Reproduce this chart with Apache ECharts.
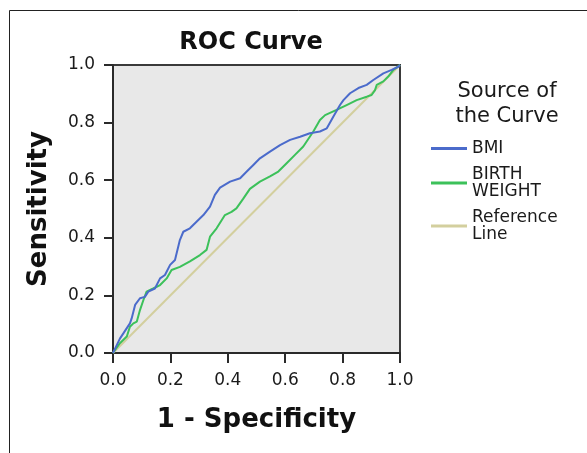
<!DOCTYPE html>
<html>
<head>
<meta charset="utf-8">
<script src="https://cdn.jsdelivr.net/npm/echarts@6/dist/echarts.min.js"></script>
<style>
  html, body { margin: 0; padding: 0; background: #fff; }
  #chart { width: 587px; height: 453px; }
</style>
</head>
<body>
<div id="chart"></div>
<script>
// BMI curve (1 - specificity, sensitivity)
const bmiX = [0, 0.024, 0.059, 0.065, 0.077, 0.094, 0.111, 0.123, 0.146, 0.164, 0.181, 0.199, 0.216, 0.233, 0.245, 0.268, 0.291, 0.315, 0.338, 0.355, 0.373, 0.408, 0.443, 0.466, 0.489, 0.512, 0.547, 0.582, 0.617, 0.652, 0.686, 0.721, 0.745, 0.768, 0.791, 0.803, 0.826, 0.855, 0.884, 0.907, 0.942, 0.971, 0.994, 1]
const bmiY = [0, 0.05, 0.103, 0.12, 0.167, 0.19, 0.195, 0.213, 0.224, 0.259, 0.271, 0.306, 0.323, 0.392, 0.421, 0.433, 0.456, 0.479, 0.508, 0.549, 0.574, 0.595, 0.607, 0.63, 0.653, 0.676, 0.699, 0.722, 0.74, 0.751, 0.763, 0.769, 0.78, 0.821, 0.861, 0.878, 0.902, 0.92, 0.931, 0.948, 0.971, 0.983, 0.994, 1]

// BIRTH WEIGHT curve
const bwX = [0, 0.024, 0.048, 0.059, 0.071, 0.083, 0.094, 0.106, 0.117, 0.14, 0.164, 0.187, 0.204, 0.233, 0.268, 0.303, 0.326, 0.338, 0.361, 0.39, 0.413, 0.43, 0.454, 0.477, 0.512, 0.547, 0.576, 0.605, 0.634, 0.663, 0.698, 0.721, 0.739, 0.779, 0.814, 0.849, 0.884, 0.901, 0.913, 0.919, 0.942, 0.959, 0.977, 1]
const bwY = [0, 0.034, 0.057, 0.091, 0.103, 0.109, 0.149, 0.184, 0.213, 0.224, 0.236, 0.259, 0.288, 0.299, 0.318, 0.34, 0.358, 0.404, 0.433, 0.479, 0.49, 0.502, 0.536, 0.57, 0.595, 0.613, 0.63, 0.659, 0.688, 0.717, 0.769, 0.809, 0.826, 0.844, 0.861, 0.878, 0.89, 0.896, 0.913, 0.931, 0.943, 0.96, 0.983, 1]

const refX = [0, 1]
const refY = [0, 1]

const seriesNames = ['BMI', 'BIRTH\nWEIGHT', 'Reference\nLine']
const seriesColors = ['#4b6bcb', '#3cc15a', '#d3cf9e']

const zip = (xs, ys) => xs.map((x, i) => [x, ys[i]])

const font = 'DejaVu Sans'
const chart = echarts.init(document.getElementById('chart'))

chart.setOption({
  animation: false,
  backgroundColor: '#fff',
  textStyle: { fontFamily: font, color: '#1a1a1a' },
  title: [
    {
      text: 'ROC Curve',
      left: 246,
      top: 26,
      textAlign: 'center',
      textStyle: { fontFamily: font, fontSize: 24, fontWeight: 'bold', color: '#111' },
    },
    {
      text: 'Source of\nthe Curve',
      left: 502,
      top: 74,
      textAlign: 'center',
      textStyle: { fontFamily: font, fontSize: 21, fontWeight: 'normal', color: '#1a1a1a', lineHeight: 25 },
    },
  ],
  graphic: [
    {
      type: 'rect',
      shape: { x: 9.5, y: 10.5, width: 700, height: 600 },
      style: { fill: null, stroke: '#222', lineWidth: 1 },
      silent: true,
    },
  ],
  legend: {
    orient: 'vertical',
    left: 431,
    top: 140,
    padding: 0,
    icon: 'rect',
    itemWidth: 36,
    itemHeight: 3,
    itemGap: 9,
    data: seriesNames,
    textStyle: { fontFamily: font, fontSize: 17, lineHeight: 17, color: '#1a1a1a' },
  },
  grid: {
    left: 113,
    top: 65,
    width: 287,
    height: 288,
    show: true,
    backgroundColor: '#e8e8e8',
    borderColor: '#3a3a3a',
    borderWidth: 2,
  },
  xAxis: {
    type: 'value',
    min: 0,
    max: 1,
    interval: 0.2,
    name: '1 - Specificity',
    nameLocation: 'middle',
    nameGap: 54,
    nameTextStyle: { fontFamily: font, fontSize: 26, fontWeight: 'bold', color: '#111' },
    axisLine: { lineStyle: { color: '#2a2a2a', width: 2 } },
    axisTick: { length: 10, lineStyle: { color: '#2a2a2a', width: 2 } },
    axisLabel: { fontSize: 17, margin: 19, color: '#1a1a1a', formatter: v => v.toFixed(1) },
    splitLine: { show: false },
  },
  yAxis: {
    type: 'value',
    min: 0,
    max: 1,
    interval: 0.2,
    name: 'Sensitivity',
    nameLocation: 'middle',
    nameGap: 61,
    nameTextStyle: { fontFamily: font, fontSize: 26, fontWeight: 'bold', color: '#111' },
    axisLine: { lineStyle: { color: '#2a2a2a', width: 2 } },
    axisTick: { length: 9, lineStyle: { color: '#2a2a2a', width: 2 } },
    axisLabel: { fontSize: 17, margin: 18, color: '#1a1a1a', formatter: v => v.toFixed(1) },
    splitLine: { show: false },
  },
  series: [
    {
      name: seriesNames[2],
      type: 'line',
      data: zip(refX, refY),
      showSymbol: false,
      lineStyle: { color: seriesColors[2], width: 2 },
      itemStyle: { color: seriesColors[2] },
      z: 1,
    },
    {
      name: seriesNames[1],
      type: 'line',
      data: zip(bwX, bwY),
      showSymbol: false,
      lineStyle: { color: seriesColors[1], width: 2 },
      itemStyle: { color: seriesColors[1] },
      z: 2,
    },
    {
      name: seriesNames[0],
      type: 'line',
      data: zip(bmiX, bmiY),
      showSymbol: false,
      lineStyle: { color: seriesColors[0], width: 2 },
      itemStyle: { color: seriesColors[0] },
      z: 3,
    },
  ],
})
</script>
</body>
</html>
